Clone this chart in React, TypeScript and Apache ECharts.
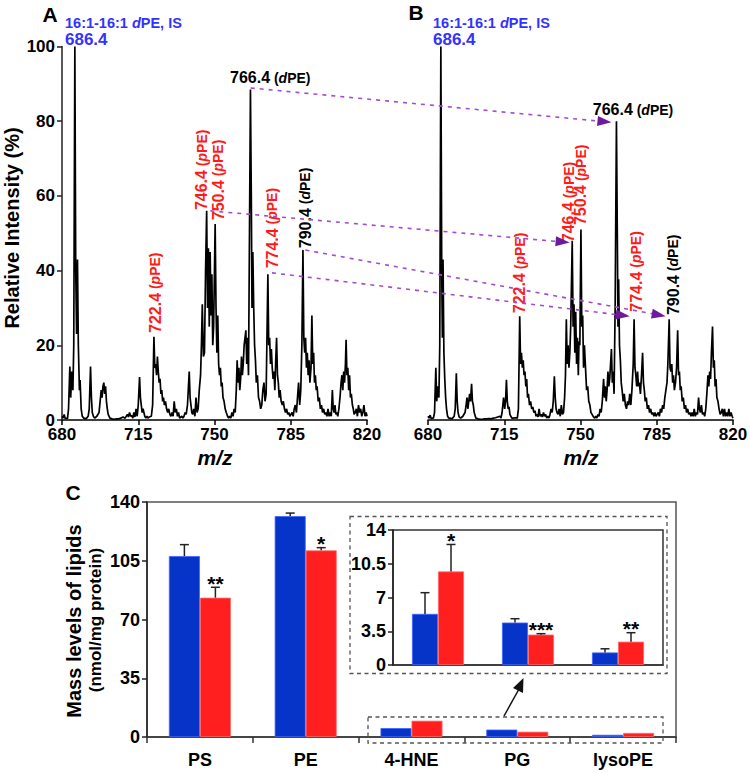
import React, { useEffect, useRef } from 'react';
import * as echarts from 'echarts';

const FONT = '"Liberation Sans", Arial, Helvetica, sans-serif';
const BLUE_TXT = '#3333ff';
const RED_TXT = '#ff1a1a';
const BAR_BLUE = '#0634c8';
const BAR_RED = '#ff1f1f';

// ---------- Panel A / B : MS spectra (m/z, relative intensity %) ----------
const mzTicks = [680, 715, 750, 785, 820];

const spectrumA: number[][] = [
  [680, 1], [680.5, 0.5], [681, 1.5], [681.5, 0.3], [682, 0.5], [682.5, 0.3], [683, 3], [683.6, 14.3], [684, 6], [684.5, 13], [685, 8], [685.4, 20], [685.9, 100], [686.3, 40], [686.7, 23], [687.1, 43], [687.5, 20], [688, 8], [688.3, 10.7], [688.8, 3], [689.3, 1], [690, 0.5], [691, 0.3], [692, 1], [692.5, 3], [693.1, 14.3], [693.5, 6], [693.9, 2], [694.4, 1], [695, 0.5], [696, 1], [697, 2], [697.5, 5], [698, 8], [698.4, 6], [698.8, 9], [699.2, 10], [699.6, 7], [700, 9], [700.4, 5], [700.8, 3], [701.2, 1.5], [702, 0.5], [703, 0.3], [704, 0.2], [705, 0.3], [706, 0.3], [707, 0.5], [708, 0.8], [709, 0.5], [710, 1.5], [710.5, 0.8], [711, 2], [711.5, 1], [712, 1.2], [712.5, 0.5], [713, 2], [713.5, 0.8], [714, 3], [714.5, 1], [715, 4], [715.6, 11.5], [716, 6], [716.4, 4], [716.8, 2], [717.2, 3], [717.6, 2], [718, 1], [718.5, 0.5], [719, 1], [719.5, 0.5], [720, 0.8], [721, 1], [721.6, 4], [722.2, 22.3], [722.6, 14], [723, 15], [723.4, 12], [723.8, 17], [724.2, 13], [724.6, 10], [725, 11], [725.4, 7], [725.8, 8], [726.2, 5], [726.6, 6], [727, 4], [727.5, 5], [728, 3], [728.5, 2], [729, 3], [729.5, 1.5], [730, 1], [730.5, 2], [731, 1], [731.5, 5], [732, 2], [732.5, 3], [733, 1], [733.5, 2], [734, 0.5], [735, 1], [735.5, 0.5], [736, 1], [736.5, 2], [737, 1.5], [737.6, 4], [738.4, 13], [738.8, 6], [739.2, 4], [739.6, 2], [740, 1.5], [740.5, 3], [741, 1], [741.5, 6], [742, 2], [742.5, 3], [743, 8], [743.6, 12], [744, 20], [744.4, 31], [744.9, 17], [745.4, 18], [745.9, 40], [746.4, 56], [746.8, 30], [747.2, 46], [747.6, 25], [748, 45], [748.4, 28], [748.8, 39], [749.2, 20], [749.6, 25], [750.3, 52.5], [750.7, 30], [751.1, 18], [751.5, 28], [751.9, 15], [752.3, 12], [752.7, 14], [753.1, 9], [753.5, 10], [753.9, 6], [754.4, 5], [754.9, 3], [755.4, 2], [756, 1], [756.5, 0.5], [757, 1], [757.5, 0.5], [758, 2], [758.5, 1], [759, 3], [759.5, 2], [760, 8], [760.4, 16], [760.8, 10], [761.2, 14], [761.6, 8], [762, 11], [762.4, 17], [762.8, 12], [763.2, 15], [763.6, 20], [764, 22], [764.4, 24], [764.8, 15], [765.2, 22], [765.6, 12], [766, 45], [766.5, 88.5], [766.9, 60], [767.2, 30], [767.6, 45], [768, 30], [768.4, 20], [768.8, 16], [769.2, 10], [769.7, 12], [770.2, 6], [770.7, 5], [771.2, 3], [771.7, 4], [772.2, 8], [772.7, 10], [773.2, 5], [773.7, 7], [774.5, 39], [774.9, 20], [775.3, 22], [775.7, 15], [776.1, 19], [776.5, 14], [776.9, 11], [777.3, 13], [777.7, 8], [778.1, 16], [778.5, 22], [778.9, 12], [779.3, 10], [779.7, 6], [780.1, 8], [780.6, 5], [781.1, 4], [781.6, 5], [782.1, 3], [782.6, 2], [783.1, 3], [783.6, 1.5], [784.1, 2], [784.6, 1], [785.1, 1.5], [785.6, 2], [786.1, 1], [786.6, 3], [787.1, 4], [787.6, 2], [788.1, 6], [788.6, 10], [789.1, 4], [789.6, 8], [790.1, 20], [790.6, 45.5], [791, 22], [791.4, 18], [791.8, 22], [792.2, 14], [792.6, 18], [793, 12], [793.4, 16], [793.8, 10], [794.3, 14], [794.7, 28], [795.1, 15], [795.5, 18], [795.9, 10], [796.3, 12], [796.7, 8], [797.1, 9], [797.6, 5], [798.1, 6], [798.6, 3], [799.1, 4], [799.6, 2], [800.1, 3], [800.6, 1.5], [801.1, 2], [801.6, 1], [802.1, 3], [802.6, 1], [803.1, 2], [803.6, 1], [804.1, 8], [804.5, 3], [804.9, 2], [805.3, 4], [805.7, 1.5], [806.1, 2], [806.6, 1], [807.1, 3], [807.6, 6], [808.1, 10], [808.5, 12], [808.9, 8], [809.3, 13], [809.7, 10], [810.1, 15], [810.4, 21.5], [810.8, 12], [811.2, 14], [811.6, 8], [812, 12], [812.4, 6], [812.8, 7], [813.3, 4], [813.7, 3], [814.1, 1.5], [814.6, 2], [815.1, 3], [815.6, 1], [816.1, 4], [816.6, 2], [817.1, 3], [817.6, 1], [818.1, 2], [818.6, 4], [819.1, 1], [819.6, 2], [820, 1],
];

const spectrumB: number[][] = [
  [680, 1], [680.5, 0.5], [681, 1.3], [681.5, 0.3], [682, 0.5], [682.5, 0.5], [683, 2], [683.6, 14], [684, 5], [684.5, 9], [685, 6], [685.4, 20], [685.9, 100], [686.3, 40], [686.6, 22], [686.9, 43], [687.3, 18], [687.7, 11], [688.1, 6], [688.5, 3], [689, 1], [689.5, 0.5], [690, 0.5], [691, 0.3], [692, 1], [692.5, 3], [693, 12.5], [693.4, 5], [693.8, 2], [694.3, 0.8], [695, 0.5], [696, 1], [697, 2], [697.5, 4], [697.9, 6], [698.3, 3], [698.7, 5], [699.1, 7], [699.5, 5], [700, 9.7], [700.4, 5], [700.8, 4], [701.2, 2], [702, 0.5], [703, 0.3], [704, 0.2], [705, 0.2], [706, 0.3], [707, 0.3], [708, 0.4], [709, 0.3], [710, 0.5], [711, 0.6], [712, 0.8], [713, 1], [713.5, 0.5], [714, 2], [714.7, 6], [715.2, 3], [715.6, 5], [716, 10.8], [716.4, 5], [716.8, 3], [717.2, 3.5], [717.6, 1.5], [718, 1], [718.5, 0.5], [719, 0.5], [720, 0.6], [721, 0.5], [721.5, 3], [722.1, 27.8], [722.5, 15], [722.9, 18], [723.3, 14], [723.7, 16], [724.1, 12], [724.5, 13], [724.9, 9], [725.3, 11], [725.7, 6], [726.1, 7], [726.6, 4], [727.1, 5], [727.6, 3], [728.1, 3.5], [728.6, 2], [729.1, 2.5], [729.6, 1], [730, 1.5], [730.5, 0.8], [731, 3], [731.5, 1], [732, 1.5], [732.5, 0.8], [733, 2], [733.5, 1], [734, 1.5], [734.5, 0.5], [735, 1], [735.5, 0.5], [736, 1.5], [736.5, 3], [737, 2], [737.5, 5], [738, 11.7], [738.4, 6], [738.8, 3], [739.2, 2], [739.7, 1.5], [740.2, 3], [740.7, 1], [741.2, 4], [741.7, 1.5], [742.2, 2], [742.7, 6], [743.1, 12], [743.5, 27], [743.9, 15], [744.3, 20], [744.7, 14], [745.1, 18], [745.5, 25], [745.9, 38], [746.2, 48], [746.6, 25], [747, 31], [747.4, 18], [747.8, 29], [748.2, 15], [748.6, 22], [749, 12], [749.3, 21], [749.7, 20], [750.2, 51], [750.6, 25], [751, 28], [751.4, 14], [751.8, 20], [752.3, 14], [752.8, 8], [753.3, 9], [753.8, 5], [754.3, 4], [754.8, 2], [755.3, 1.5], [756, 0.8], [756.5, 0.5], [757, 1], [757.5, 0.5], [758, 1.5], [758.5, 1], [759, 3], [759.5, 2], [760, 5], [760.6, 11], [761, 6], [761.4, 9], [761.8, 5], [762.2, 8], [762.6, 13], [763, 9], [763.4, 11], [763.8, 15], [764.2, 19], [764.6, 10], [765, 13], [765.4, 7], [765.9, 30], [766.5, 80], [766.9, 50], [767.2, 25], [767.5, 37.7], [767.9, 20], [768.3, 16], [768.7, 10], [769.1, 8], [769.6, 5], [770.1, 7], [770.6, 4], [771.1, 3], [771.6, 5], [772.1, 4], [772.6, 7], [773.1, 4], [773.6, 8], [774.2, 15], [774.6, 27], [775, 14], [775.4, 12], [775.8, 9], [776.2, 13], [776.6, 9], [777, 10], [777.5, 7], [778, 12], [778.5, 18], [778.9, 10], [779.3, 8], [779.7, 5], [780.2, 6], [780.7, 3], [781.2, 4], [781.7, 2], [782.2, 3], [782.7, 1.5], [783.2, 2], [783.7, 1], [784.2, 2], [784.7, 1], [785.2, 1.5], [785.7, 2], [786.2, 1], [786.7, 3], [787.2, 2], [787.7, 4], [788.2, 3], [788.7, 6], [789.2, 8], [789.7, 10], [790.1, 15], [790.7, 27], [791.1, 14], [791.5, 13], [791.9, 15], [792.3, 10], [792.7, 12], [793.1, 8], [793.6, 10], [794.1, 14], [794.6, 24], [795, 12], [795.4, 13], [795.8, 8], [796.2, 9], [796.7, 5], [797.2, 6], [797.7, 3], [798.2, 4], [798.7, 2], [799.2, 3], [799.7, 1.5], [800.2, 2], [800.7, 1], [801.2, 2], [801.7, 1], [802.2, 3], [802.7, 1], [803.2, 2], [803.7, 1.5], [804.2, 6], [804.6, 3], [805, 2], [805.5, 4], [806, 1.5], [806.5, 2], [807, 1], [807.5, 3], [808, 7], [808.5, 12], [808.9, 9], [809.3, 13], [809.7, 11], [810.1, 18], [810.6, 25], [811, 14], [811.4, 16], [811.8, 9], [812.2, 11], [812.6, 6], [813.1, 5], [813.6, 3], [814.1, 1.5], [814.6, 2], [815.1, 3], [815.6, 1], [816.1, 3], [816.6, 1], [817.1, 2], [817.6, 1], [818.1, 3], [818.6, 1], [819.1, 2], [819.6, 1], [820, 0.5],
];

// Peak annotations: [m/z anchor, intensity anchor]
const peakLabelsA = [
  { mz: 775.6, int: 91.6, num: '766.4', tag: 'd', color: '#000', rotated: false },
  { mz: 722.8, int: 23.3, num: '722.4', tag: 'p', color: RED_TXT, rotated: true },
  { mz: 744.2, int: 56.2, num: '746.4', tag: 'p', color: RED_TXT, rotated: true },
  { mz: 751.7, int: 53.5, num: '750.4', tag: 'p', color: RED_TXT, rotated: true },
  { mz: 776.4, int: 40.6, num: '774.4', tag: 'p', color: RED_TXT, rotated: true },
  { mz: 791.7, int: 46.0, num: '790.4', tag: 'd', color: '#000', rotated: true },
];
const peakLabelsB = [
  { mz: 774.1, int: 83.0, num: '766.4', tag: 'd', color: '#000', rotated: false },
  { mz: 722.1, int: 28.6, num: '722.4', tag: 'p', color: RED_TXT, rotated: true },
  { mz: 744.5, int: 47.6, num: '746.4', tag: 'p', color: RED_TXT, rotated: true },
  { mz: 750.1, int: 52.2, num: '750.4', tag: 'p', color: RED_TXT, rotated: true },
  { mz: 775.6, int: 29.0, num: '774.4', tag: 'p', color: RED_TXT, rotated: true },
  { mz: 792.6, int: 28.1, num: '790.4', tag: 'd', color: '#000', rotated: true },
];

// Arrows from peaks in A to peaks in B
const arrowLinks = [
  { from: [766.6, 88.9], to: [764.2, 79.7] },
  { from: [748.1, 56.0], to: [745.0, 47.5] },
  { from: [776.4, 39.4], to: [772.6, 27.8] },
  { from: [791.7, 45.5], to: [789.1, 27.8] },
];

// ---------- Panel C : lipid mass levels ----------
const categories = ['PS', 'PE', '4-HNE', 'PG', 'lysoPE'];
const controlMeans = [107.8, 131.6, 5.3, 4.4, 1.3];
const controlErr = [6.8, 1.8, 2.2, 0.4, 0.38];
const treatedMeans = [83.0, 111.2, 9.7, 3.15, 2.42];
const treatedErr = [6.2, 1.6, 2.8, 0.1, 0.93];
const significance = ['**', '*', '*', '***', '**'];
const insetCategories = ['4-HNE', 'PG', 'lysoPE'];
const insetStart = 2;
const mainErrCount = 2;

const richFor = (color: string) => ({
  n: { fontSize: 16, fontWeight: 'bold', fontFamily: FONT, fill: color, color },
  s: { fontSize: 14, fontWeight: 'bold', fontFamily: FONT, fill: color, color },
  i: { fontSize: 14, fontWeight: 'bold', fontStyle: 'italic', fontFamily: FONT, fill: color, color },
});

function labelSeries(labels: any[], idx: number) {
  return {
    type: 'custom',
    xAxisIndex: idx,
    yAxisIndex: idx,
    silent: true,
    z: 20,
    clip: false,
    data: labels.map((l, i) => [l.mz, l.int, i]),
    renderItem: (params: any, api: any) => {
      const l = labels[params.dataIndex];
      const p = api.coord([api.value(0), api.value(1)]);
      return {
        type: 'text',
        x: p[0],
        y: p[1],
        rotation: l.rotated ? Math.PI / 2 : 0,
        style: {
          text: `{n|${l.num}}{s| (}{i|${l.tag}}{s|PE)}`,
          rich: richFor(l.color),
          fill: l.color,
          fontSize: 14,
          fontWeight: 'bold',
          fontFamily: FONT,
          align: l.rotated ? 'left' : 'center',
          textAlign: l.rotated ? 'left' : 'center',
          verticalAlign: 'middle',
          textVerticalAlign: 'middle',
        },
      };
    },
  };
}

function errorSeries(means: number[], errs: number[], startIdx: number, count: number, axis: number, offset: number) {
  const data: number[][] = [];
  for (let k = 0; k < count; k++) {
    const i = startIdx + k;
    data.push([k, means[i], means[i] + errs[i]]);
  }
  return {
    type: 'custom',
    xAxisIndex: axis,
    yAxisIndex: axis,
    silent: true,
    z: 6,
    data,
    renderItem: (params: any, api: any) => {
      const base = api.coord([api.value(0), api.value(1)]);
      const top = api.coord([api.value(0), api.value(2)]);
      const x = base[0] + offset;
      return {
        type: 'group',
        children: [
          { type: 'line', shape: { x1: x, y1: base[1], x2: x, y2: top[1] }, style: { stroke: '#222', lineWidth: 1.5 } },
          { type: 'line', shape: { x1: x - 4.5, y1: top[1], x2: x + 4.5, y2: top[1] }, style: { stroke: '#222', lineWidth: 1.5 } },
        ],
      };
    },
  };
}

function starSeries(means: number[], errs: number[], startIdx: number, count: number, axis: number, offset: number) {
  const data: number[][] = [];
  for (let k = 0; k < count; k++) {
    const i = startIdx + k;
    data.push([k, means[i] + errs[i], i]);
  }
  return {
    type: 'custom',
    xAxisIndex: axis,
    yAxisIndex: axis,
    silent: true,
    z: 7,
    clip: false,
    data,
    renderItem: (params: any, api: any) => {
      const top = api.coord([api.value(0), api.value(1)]);
      const i = api.value(2);
      return {
        type: 'text',
        x: top[0] + offset,
        y: top[1] - 4,
        style: {
          text: significance[i],
          fill: '#000',
          font: `bold 21px ${FONT}`,
          align: 'center',
          textAlign: 'center',
          verticalAlign: 'middle',
          textVerticalAlign: 'middle',
        },
      };
    },
  };
}

const tickLabel = (size: number) => ({ color: '#000', fontSize: size, fontWeight: 'bold', fontFamily: FONT });

function txt(id: string, x: number, y: number, text: string, font: string, fill = '#000', align = 'center', rotation = 0) {
  return {
    id, type: 'text', x, y, rotation, z: 50,
    style: { text, font, fill, align, textAlign: align, verticalAlign: 'middle', textVerticalAlign: 'middle' },
  };
}

function blueTitle(id: string, x: number) {
  const rich = {
    n: { fontSize: 14.5, fontWeight: 'bold', fontFamily: FONT, fill: BLUE_TXT, color: BLUE_TXT },
    i: { fontSize: 14.5, fontWeight: 'bold', fontStyle: 'italic', fontFamily: FONT, fill: BLUE_TXT, color: BLUE_TXT },
  };
  return [
    {
      id: id + '1', type: 'text', x, y: 22.5, z: 50,
      style: { text: '{n|16:1-16:1 }{i|d}{n|PE, IS}', rich, fill: BLUE_TXT, fontSize: 14.5, fontWeight: 'bold', fontFamily: FONT, align: 'left', textAlign: 'left', verticalAlign: 'middle', textVerticalAlign: 'middle' },
    },
    txt(id + '2', x, 39, '686.4', `bold 17px ${FONT}`, BLUE_TXT, 'left'),
  ];
}

function baseGraphics() {
  const dash = { stroke: '#555', lineWidth: 1.3, lineDash: [4, 3.5], fill: 'none' };
  return [
    txt('tA', 50, 14, 'A', `bold 21px ${FONT}`),
    txt('tB', 416, 12, 'B', `bold 21px ${FONT}`),
    txt('tC', 73, 492, 'C', `bold 21px ${FONT}`),
    ...blueTitle('bA', 65),
    ...blueTitle('bB', 433),
    txt('yA', 12, 228, 'Relative Intensity (%)', `bold 20px ${FONT}`, '#000', 'center', Math.PI / 2),
    txt('mzA', 215, 457, 'm/z', `italic bold 21px ${FONT}`),
    txt('mzB', 581, 457, 'm/z', `italic bold 21px ${FONT}`),
    txt('yC1', 74, 621, 'Mass levels of lipids', `bold 20px ${FONT}`, '#000', 'center', Math.PI / 2),
    txt('yC2', 95, 620, '(nmol/mg protein)', `bold 17px ${FONT}`, '#000', 'center', Math.PI / 2),
    { id: 'box1', type: 'rect', z: 40, shape: { x: 350, y: 516.5, width: 317, height: 157 }, style: dash },
    { id: 'box2', type: 'rect', z: 40, shape: { x: 368, y: 717, width: 295, height: 26 }, style: dash },
    { id: 'cArrowL', type: 'line', z: 40, shape: { x1: 504, y1: 716, x2: 518.5, y2: 690 }, style: { stroke: '#111', lineWidth: 1.5 } },
    { id: 'cArrowH', type: 'polygon', z: 40, shape: { points: [[523.5, 678], [513, 688], [523, 693]] }, style: { fill: '#111' } },
  ];
}

function buildArrows(chart: any) {
  const els: any[] = [];
  arrowLinks.forEach((a, k) => {
    const p1 = chart.convertToPixel({ gridIndex: 0 }, a.from);
    const p2 = chart.convertToPixel({ gridIndex: 1 }, a.to);
    if (!p1 || !p2) return;
    const dx = p2[0] - p1[0];
    const dy = p2[1] - p1[1];
    const L = Math.hypot(dx, dy);
    const ux = dx / L;
    const uy = dy / L;
    const head = 14;
    const half = 5;
    const bx = p2[0] - ux * head;
    const by = p2[1] - uy * head;
    els.push({
      id: 'arrL' + k, type: 'line', z: 60,
      shape: { x1: p1[0], y1: p1[1], x2: bx, y2: by },
      style: { stroke: '#a24bd1', lineWidth: 1.6, lineDash: [4, 5] },
    });
    els.push({
      id: 'arrH' + k, type: 'polygon', z: 60,
      shape: { points: [[p2[0], p2[1]], [bx - uy * half, by + ux * half], [bx + uy * half, by - ux * half]] },
      style: { fill: '#6c1a9e' },
    });
  });
  return els;
}

function buildOption() {
  const specX = (gi: number) => ({
    type: 'value', gridIndex: gi, min: mzTicks[0], max: mzTicks[mzTicks.length - 1], interval: mzTicks[1] - mzTicks[0],
    axisLine: { show: true, onZero: false, lineStyle: { color: '#000', width: 1.5 } },
    axisTick: { show: true, length: 5, lineStyle: { color: '#000', width: 1.5 } },
    axisLabel: { ...tickLabel(17), margin: 6, showMinLabel: true, showMaxLabel: true },
    splitLine: { show: false },
  });
  const valY = (gi: number, max: number, interval: number, size: number) => ({
    type: 'value', gridIndex: gi, min: 0, max, interval,
    axisLine: { show: true, lineStyle: { color: '#222', width: 1.5 } },
    axisTick: { show: true, length: 5, lineStyle: { color: '#222', width: 1.5 } },
    axisLabel: { ...tickLabel(size), margin: 7, showMinLabel: true, showMaxLabel: true },
    splitLine: { show: false },
  });

  return {
    animation: false,
    backgroundColor: '#fff',
    grid: [
      { left: 62, top: 46.5, width: 305, height: 373.5, outerBoundsMode: 'none' },
      { left: 428, top: 46.5, width: 305, height: 373.5, outerBoundsMode: 'none' },
      { left: 147, top: 502, width: 529, height: 235, show: true, borderColor: '#555', borderWidth: 1.5, outerBoundsMode: 'none' },
      { left: 393, top: 530, width: 270, height: 135, show: true, borderColor: '#333', borderWidth: 1.5, outerBoundsMode: 'none' },
    ],
    xAxis: [
      specX(0),
      specX(1),
      {
        type: 'category', gridIndex: 2, data: categories,
        axisLine: { lineStyle: { color: '#333', width: 1.5 } },
        axisTick: { show: true, length: 6, lineStyle: { color: '#333', width: 1.5 } },
        axisLabel: { ...tickLabel(18), margin: 14 },
      },
      {
        type: 'category', gridIndex: 3, data: insetCategories,
        axisLine: { lineStyle: { color: '#333', width: 1.5 } },
        axisTick: { show: false },
        axisLabel: { show: false },
      },
    ],
    yAxis: [
      valY(0, 100, 20, 17),
      { type: 'value', gridIndex: 1, min: 0, max: 100, show: false },
      valY(2, 140, 35, 18),
      valY(3, 14, 3.5, 18),
    ],
    series: [
      { type: 'line', xAxisIndex: 0, yAxisIndex: 0, data: spectrumA, showSymbol: false, symbol: 'none', silent: true, lineStyle: { color: '#000', width: 1.7 } },
      { type: 'line', xAxisIndex: 1, yAxisIndex: 1, data: spectrumB, showSymbol: false, symbol: 'none', silent: true, lineStyle: { color: '#000', width: 1.7 } },
      labelSeries(peakLabelsA, 0),
      labelSeries(peakLabelsB, 1),
      { type: 'bar', xAxisIndex: 2, yAxisIndex: 2, data: controlMeans, barWidth: 31, barGap: '0%', itemStyle: { color: BAR_BLUE, borderColor: '#3f63ff', borderWidth: 0.8 } },
      { type: 'bar', xAxisIndex: 2, yAxisIndex: 2, data: treatedMeans, barWidth: 31, barGap: '0%', itemStyle: { color: BAR_RED, borderColor: '#ff6a6a', borderWidth: 0.8 } },
      errorSeries(controlMeans, controlErr, 0, mainErrCount, 2, -15.5),
      errorSeries(treatedMeans, treatedErr, 0, mainErrCount, 2, 15.5),
      starSeries(treatedMeans, treatedErr, 0, mainErrCount, 2, 15.5),
      { type: 'bar', xAxisIndex: 3, yAxisIndex: 3, data: controlMeans.slice(insetStart), barWidth: 26, barGap: '0%', itemStyle: { color: BAR_BLUE, borderColor: '#3f63ff', borderWidth: 0.8 } },
      { type: 'bar', xAxisIndex: 3, yAxisIndex: 3, data: treatedMeans.slice(insetStart), barWidth: 26, barGap: '0%', itemStyle: { color: BAR_RED, borderColor: '#ff6a6a', borderWidth: 0.8 } },
      errorSeries(controlMeans, controlErr, insetStart, insetCategories.length, 3, -13),
      errorSeries(treatedMeans, treatedErr, insetStart, insetCategories.length, 3, 13),
      starSeries(treatedMeans, treatedErr, insetStart, insetCategories.length, 3, 13),
    ],
    graphic: { elements: baseGraphics() },
  };
}

export default function App() {
  const ref = useRef<HTMLDivElement>(null);
  useEffect(() => {
    if (!ref.current) return;
    const chart = echarts.init(ref.current, null, { renderer: 'svg' });
    chart.setOption(buildOption() as any);
    const arrows = buildArrows(chart);
    chart.setOption({ graphic: { elements: [...baseGraphics(), ...arrows] } } as any);
    return () => chart.dispose();
  }, []);
  return (
    <div
      ref={ref}
      style={{ position: 'fixed', left: 0, top: 0, width: 750, height: 773, background: '#fff' }}
    />
  );
}
